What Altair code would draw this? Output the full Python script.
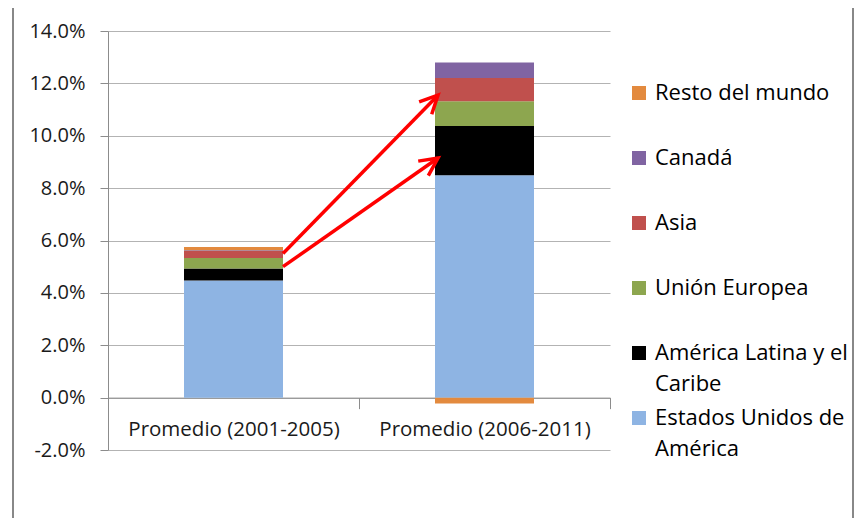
import math
import altair as alt
import pandas as pd

# ---------------- data ----------------
categories = ["Promedio (2001-2005)", "Promedio (2006-2011)"]
regions = ["Estados Unidos de América", "América Latina y el Caribe",
           "Unión Europea", "Asia", "Canadá", "Resto del mundo"]
colors = ["#8EB4E3", "#000000", "#8DA64F", "#C0504D", "#8064A2", "#E38A3E"]
period1 = [0.0447, 0.0046, 0.0040, 0.0027, 0.0003, 0.0012]
period2 = [0.0849, 0.0188, 0.0095, 0.0089, 0.0059, -0.0022]

arrow_start = [0.0550, 0.0500]
arrow_end = [0.1155, 0.0915]

y_ticks = [-0.02, 0.0, 0.02, 0.04, 0.06, 0.08, 0.10, 0.12, 0.14]

# ---------------- layout / style ----------------
W, H = 502, 419
BAR = 99
FONT = "Open Sans"
GRID = "#B3B3B3"
AXIS = "#8C8C8C"
TXT = "#1A1A1A"
RED = "#FF0000"

step = W / len(categories)
bp_start = 0.5 + BAR / 2 / step
bp_end = 0.5 - BAR / 2 / step + 0.012
ymin, ymax = y_ticks[0], y_ticks[-1]

rows = []
for cat, vals in zip(categories, [period1, period2]):
    for i, (r, v) in enumerate(zip(regions, vals)):
        rows.append({"period": cat, "region": r, "value": v, "idx": i})
df = pd.DataFrame(rows)

arrows = []
for y1, y2 in zip(arrow_start, arrow_end):
    dx = step * (1 + bp_end - bp_start)
    dy = (y2 - y1) * H / (ymax - ymin)
    ang = math.degrees(math.atan2(dx, dy))
    arrows.append({"from": categories[0], "to": categories[1], "y1": y1, "y2": y2, "ang": ang})
adf = pd.DataFrame(arrows)

xenc = alt.X("period:N", sort=categories,
             scale=alt.Scale(paddingInner=0, paddingOuter=0),
             axis=alt.Axis(title=None, labelAngle=0, offset=-H * (0 - ymin) / (ymax - ymin),
                           tickBand="extent", tickSize=11, tickColor=AXIS, domainColor=AXIS,
                           labelFont=FONT, labelFontSize=20.5, labelColor=TXT, labelPadding=11,
                           labelLimit=400, grid=False))

bars = alt.Chart(df).mark_bar(size=BAR).encode(
    x=xenc,
    y=alt.Y("value:Q", stack="zero",
            scale=alt.Scale(domain=[ymin, ymax], nice=False),
            axis=alt.Axis(title=None, values=y_ticks, tickSize=8,
                          labelExpr="replace(format(datum.value, '.1%'), '\u2212', '-')",
                          tickColor=AXIS, domainColor=AXIS, gridColor=GRID,
                          labelFont=FONT, labelFontSize=20, labelColor=TXT, labelPadding=15)),
    color=alt.Color("region:N",
                    scale=alt.Scale(domain=list(reversed(regions)), range=list(reversed(colors))),
                    legend=alt.Legend(title=None, orient="none", legendX=520, legendY=51,
                                      symbolType="square", symbolSize=196, symbolStrokeWidth=0,
                                      labelFont=FONT, labelFontSize=22, labelColor="#000000",
                                      labelOffset=5, rowPadding=12, gridAlign="all", padding=0,
                                      labelLimit=400,
                                      labelExpr="split(replace(replace(datum.label, 'y el ', 'y el|'), 'Unidos de ', 'Unidos de|'), '|')")),
    order=alt.Order("idx:Q", sort="ascending"),
)

shafts = alt.Chart(adf).mark_rule(color=RED, strokeWidth=3.5).encode(
    x=alt.X("from:N", sort=categories, bandPosition=bp_start),
    x2=alt.X2("to:N", bandPosition=bp_end),
    y="y1:Q",
    y2="y2:Q",
)

heads = alt.Chart(adf).mark_point(shape="M-0.44,0.9L0,0L0.44,0.9", filled=False,
                                  size=1600, strokeWidth=3.5, color=RED, opacity=1).encode(
    x=alt.X("to:N", sort=categories, bandPosition=bp_end),
    y="y2:Q",
    angle=alt.Angle("ang:Q", scale=None),
)

frame = alt.Chart(alt.Data(values=[{"k": 1}])).mark_rect(
    fill="transparent", stroke="#888888", strokeWidth=2).encode(
    x=alt.value(-95), x2=alt.value(745), y=alt.value(-27), y2=alt.value(H + 120))

chart = alt.layer(bars, shafts, heads, frame).properties(
    width=W, height=H,
    autosize=alt.AutoSizeParams(type="none"),
    padding={"left": 100, "top": 23, "right": 245, "bottom": 68},
    background="white",
).configure(
    style={"guide-label": {"lineHeight": 31}},
    view=alt.ViewConfig(stroke=None),
)

chart.save("out.html", embed_options={"renderer": "svg", "actions": False})
